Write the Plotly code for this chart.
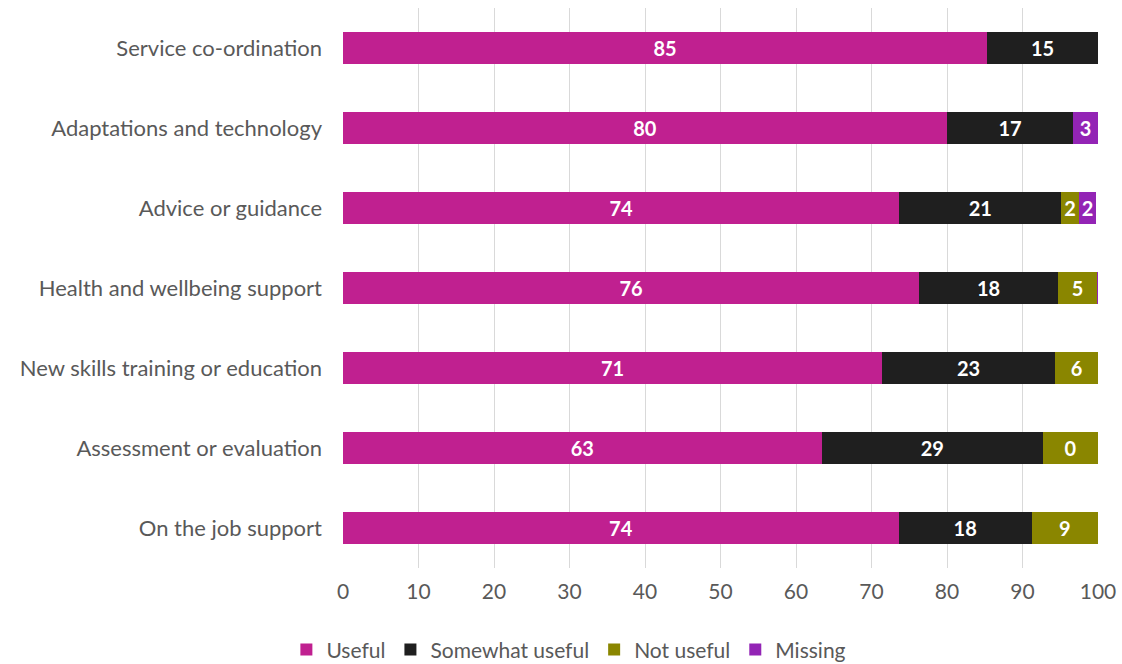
import plotly.graph_objects as go

categories = ["Service co-ordination", "Adaptations and technology", "Advice or guidance",
              "Health and wellbeing support", "New skills training or education",
              "Assessment or evaluation", "On the job support"]

useful = [85.3, 80.0, 73.7, 76.3, 71.4, 63.4, 73.6]
somewhat = [14.7, 16.7, 21.4, 18.4, 22.9, 29.3, 17.6]
not_useful = [0.0, 0.0, 2.4, 5.2, 5.7, 7.3, 8.8]
missing = [0.0, 3.3, 2.2, 0.1, 0.0, 0.0, 0.0]

useful_labels = ["85", "80", "74", "76", "71", "63", "74"]
somewhat_labels = ["15", "17", "21", "18", "23", "29", "18"]
not_useful_labels = ["", "", "2", "5", "6", "0", "9"]
missing_labels = ["", "3", "2", "", "", "", ""]

x_ticks = [0, 10, 20, 30, 40, 50, 60, 70, 80, 90, 100]

series = [
    ("Useful", useful, useful_labels, "#C02090"),
    ("Somewhat useful", somewhat, somewhat_labels, "#1F1F1F"),
    ("Not useful", not_useful, not_useful_labels, "#8A8600"),
    ("Missing", missing, missing_labels, "#9324B5"),
]

FONT = "Gill Sans, Gill Sans MT, Lato, sans-serif"

fig = go.Figure()
for name, vals, labels, color in series:
    fig.add_trace(go.Bar(
        y=categories, x=vals, name=name, orientation="h",
        marker=dict(color=color, line=dict(width=0)),
        text=labels, textposition="inside", insidetextanchor="middle",
        textfont=dict(color="white", size=20, family=FONT, weight="bold"),
        textangle=0, constraintext="none",
        hoverinfo="x+name",
    ))

fig.update_layout(
    barmode="stack",
    bargap=0.6,
    width=1122, height=664,
    margin=dict(l=343, r=24, t=8, b=96, autoexpand=False),
    plot_bgcolor="white", paper_bgcolor="white",
    font=dict(family=FONT, size=21, color="#595959"),
    uniformtext=dict(minsize=10, mode="show"),
    legend=dict(orientation="h", x=-0.075, xanchor="left", y=-0.146, yanchor="middle",
                font=dict(size=21, color="#595959"), traceorder="normal",
                itemwidth=30, tracegroupgap=0),
    showlegend=True,
)
fig.update_xaxes(range=[0, 100], tickvals=x_ticks, showgrid=True, gridcolor="#D9D9D9",
                 gridwidth=1, zeroline=False, showline=False, ticks="", ticklabelstandoff=9,
                 tickfont=dict(size=21, color="#595959"))
fig.update_yaxes(autorange="reversed", showgrid=False, zeroline=False, showline=False,
                 ticks="", ticklabelstandoff=20, tickfont=dict(size=22, color="#595959"))

fig.write_html("out.html", config={"displayModeBar": False},
               post_script="document.body.style.margin='0';document.body.style.overflow='hidden';")
